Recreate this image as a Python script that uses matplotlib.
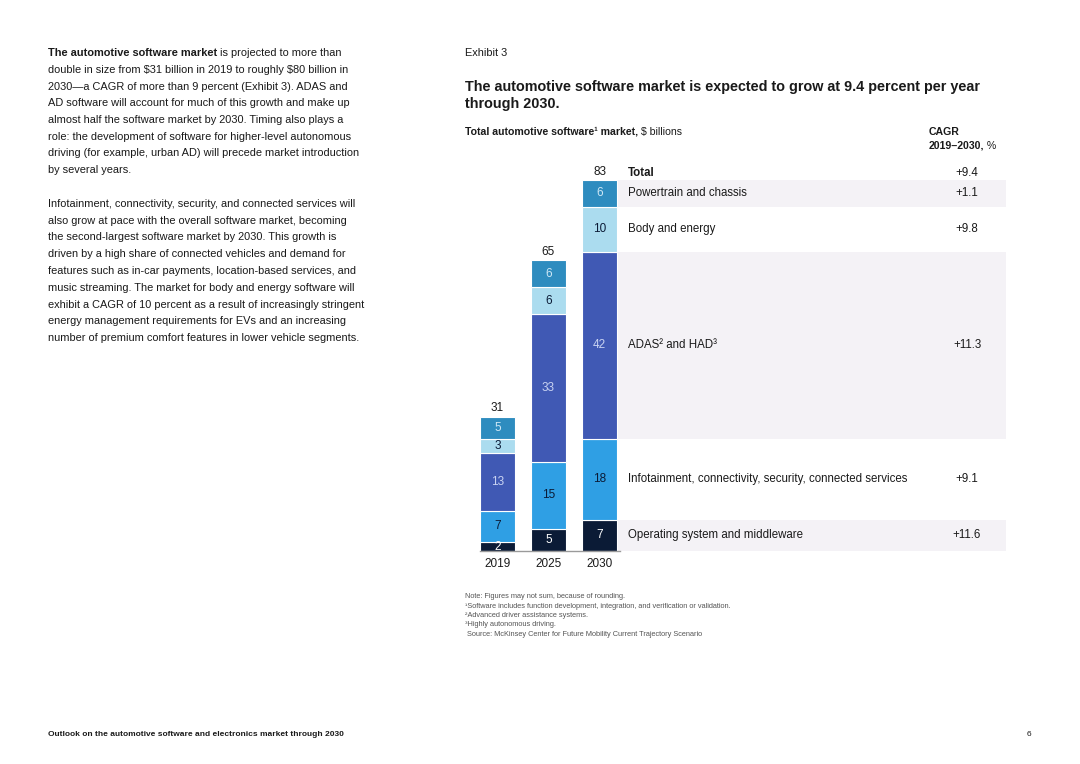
import matplotlib
matplotlib.use("Agg")
import matplotlib.pyplot as plt
import numpy as np

plt.rcParams["text.parse_math"] = False

# ---------------- data ----------------
years = ["2019", "2025", "2030"]
segments = ["Operating system and middleware",
            "Infotainment, connectivity, security, connected services",
            "ADAS² and HAD³",
            "Body and energy",
            "Powertrain and chassis"]
os_mw = [2, 5, 7]
infotainment = [7, 15, 18]
adas_had = [13, 33, 42]
body_energy = [3, 6, 10]
powertrain = [5, 6, 6]
totals = [31, 65, 83]
cagr = ["+11.6", "+9.1", "+11.3", "+9.8", "+1.1"]
cagr_total = "+9.4"

series = [os_mw, infotainment, adas_had, body_energy, powertrain]
colors = ["#0b1b36", "#2f9fe4", "#4059b4", "#abdcef", "#2e8cbf"]
label_colors = ["#ffffff", "#0b1b36", "#c9d3f2", "#0b1b36", "#cfe8f6"]
band_color = "#f4f2f6"
text_color = "#1a1a1a"

FONT = "Liberation Sans"
W, H = 1080, 764
fig = plt.figure(figsize=(W / 100, H / 100), dpi=100)
fig.patch.set_facecolor("white")


def fx(px):
    return px / W


def fy(py):
    return 1 - py / H


# ---------------- chart axes ----------------
left_px, right_px, base_px, top_px = 470, 1006, 551, 180
ax = fig.add_axes([fx(left_px), fy(base_px), fx(right_px - left_px), (base_px - top_px) / H])
spacing = 51.0
x0 = 497.5
ax.set_xlim((left_px - x0) / spacing, (right_px - x0) / spacing)
ax.set_ylim(0, totals[2])
ax.axis("off")

xpos = np.arange(len(years))
band_x0 = (617 - x0) / spacing
bottom = np.zeros(3)
for i, (vals, c, lc) in enumerate(zip(series, colors, label_colors)):
    vals = np.array(vals, dtype=float)
    # row band (aligned to 2030 segment)
    if i % 2 == 0:
        ax.fill_between([band_x0, ax.get_xlim()[1]], bottom[2], bottom[2] + vals[2],
                        color=band_color, lw=0, zorder=0)
    ax.bar(xpos, vals, bottom=bottom, width=0.67, color=c, edgecolor="white",
           linewidth=0.8, zorder=2)
    for j in range(3):
        yc = bottom[j] + vals[j] / 2
        ax.text(xpos[j], yc, str(int(vals[j])), ha="center", va="center",
                fontsize=8.5, color=lc, family=FONT, zorder=3)
    ymid = bottom[2] + vals[2] / 2
    ax.text((628 - x0) / spacing, ymid, segments[i], ha="left", va="center",
            fontsize=8.3, color=text_color, family=FONT)
    ax.text((967 - x0) / spacing, ymid, cagr[i], ha="center", va="center",
            fontsize=8.3, color=text_color, family=FONT)
    bottom = bottom + vals

for j in range(3):
    ax.text(xpos[j], bottom[j] + 1.9, str(totals[j]), ha="center", va="center",
            fontsize=8.5, color=text_color, family=FONT)
    ax.text(xpos[j], -1.6, years[j], ha="center", va="top",
            fontsize=8.5, color=text_color, family=FONT)

ax.text((628 - x0) / spacing, totals[2] + 1.6, "Total", ha="left", va="center",
        fontsize=8.3, color=text_color, family=FONT, fontweight="bold")
ax.text((967 - x0) / spacing, totals[2] + 1.6, cagr_total, ha="center", va="center",
        fontsize=8.3, color=text_color, family=FONT)
ax.plot([(480 - x0) / spacing, (620 - x0) / spacing], [0, 0], color="#9a9a9a",
        lw=1.0, clip_on=False, zorder=4)

# ---------------- helper for mixed-weight text ----------------
renderer = fig.canvas.get_renderer()


def runs(x_px, y_px, parts, size, color=text_color):
    x = fx(x_px)
    for txt, weight in parts:
        t = fig.text(x, fy(y_px), txt, fontsize=size, fontweight=weight,
                     family=FONT, color=color, va="center", ha="left")
        bb = t.get_window_extent(renderer=renderer)
        x += bb.width / W


# ---------------- left column text ----------------
para1 = [
    [("The automotive software market", "bold"), (" is projected to more than", "normal")],
    [("double in size from $31 billion in 2019 to roughly $80 billion in", "normal")],
    [("2030—a CAGR of more than 9 percent (Exhibit 3). ADAS and", "normal")],
    [("AD software will account for much of this growth and make up", "normal")],
    [("almost half the software market by 2030. Timing also plays a", "normal")],
    [("role: the development of software for higher-level autonomous", "normal")],
    [("driving (for example, urban AD) will precede market introduction", "normal")],
    [("by several years.", "normal")],
]
para2 = [
    "Infotainment, connectivity, security, and connected services will",
    "also grow at pace with the overall software market, becoming",
    "the second-largest software market by 2030. This growth is",
    "driven by a high share of connected vehicles and demand for",
    "features such as in-car payments, location-based services, and",
    "music streaming. The market for body and energy software will",
    "exhibit a CAGR of 10 percent as a result of increasingly stringent",
    "energy management requirements for EVs and an increasing",
    "number of premium comfort features in lower vehicle segments.",
]
lh = 16.75
for k, line in enumerate(para1):
    runs(48, 53 + k * lh, line, 7.9)
for k, line in enumerate(para2):
    runs(48, 204 + k * lh, [(line, "normal")], 7.9)

# ---------------- chart header ----------------
runs(465, 53, [("Exhibit 3", "normal")], 7.9)
runs(465, 87, [("The automotive software market is expected to grow at 9.4 percent per year", "bold")], 10.35)
runs(465, 104, [("through 2030.", "bold")], 10.35)
runs(465, 132, [("Total automotive software¹ market,", "bold"), (" $ billions", "normal")], 7.6)
runs(929, 132, [("CAGR", "bold")], 7.6)
runs(929, 146, [("2019–2030,", "bold"), (" %", "normal")], 7.6)

# ---------------- notes ----------------
notes = [
    "Note: Figures may not sum, because of rounding.",
    "¹Software includes function development, integration, and verification or validation.",
    "²Advanced driver assistance systems.",
    "³Highly autonomous driving.",
    " Source: McKinsey Center for Future Mobility Current Trajectory Scenario",
]
for k, n in enumerate(notes):
    runs(465, 597 + k * 9.3, [(n, "normal")], 5.3, color="#555555")

# ---------------- footer ----------------
runs(48, 735, [("Outlook on the automotive software and electronics market through 2030", "bold")], 6.0)
runs(1027, 735, [("6", "normal")], 6.0)

fig.savefig("out.png", dpi=100, facecolor="white")
